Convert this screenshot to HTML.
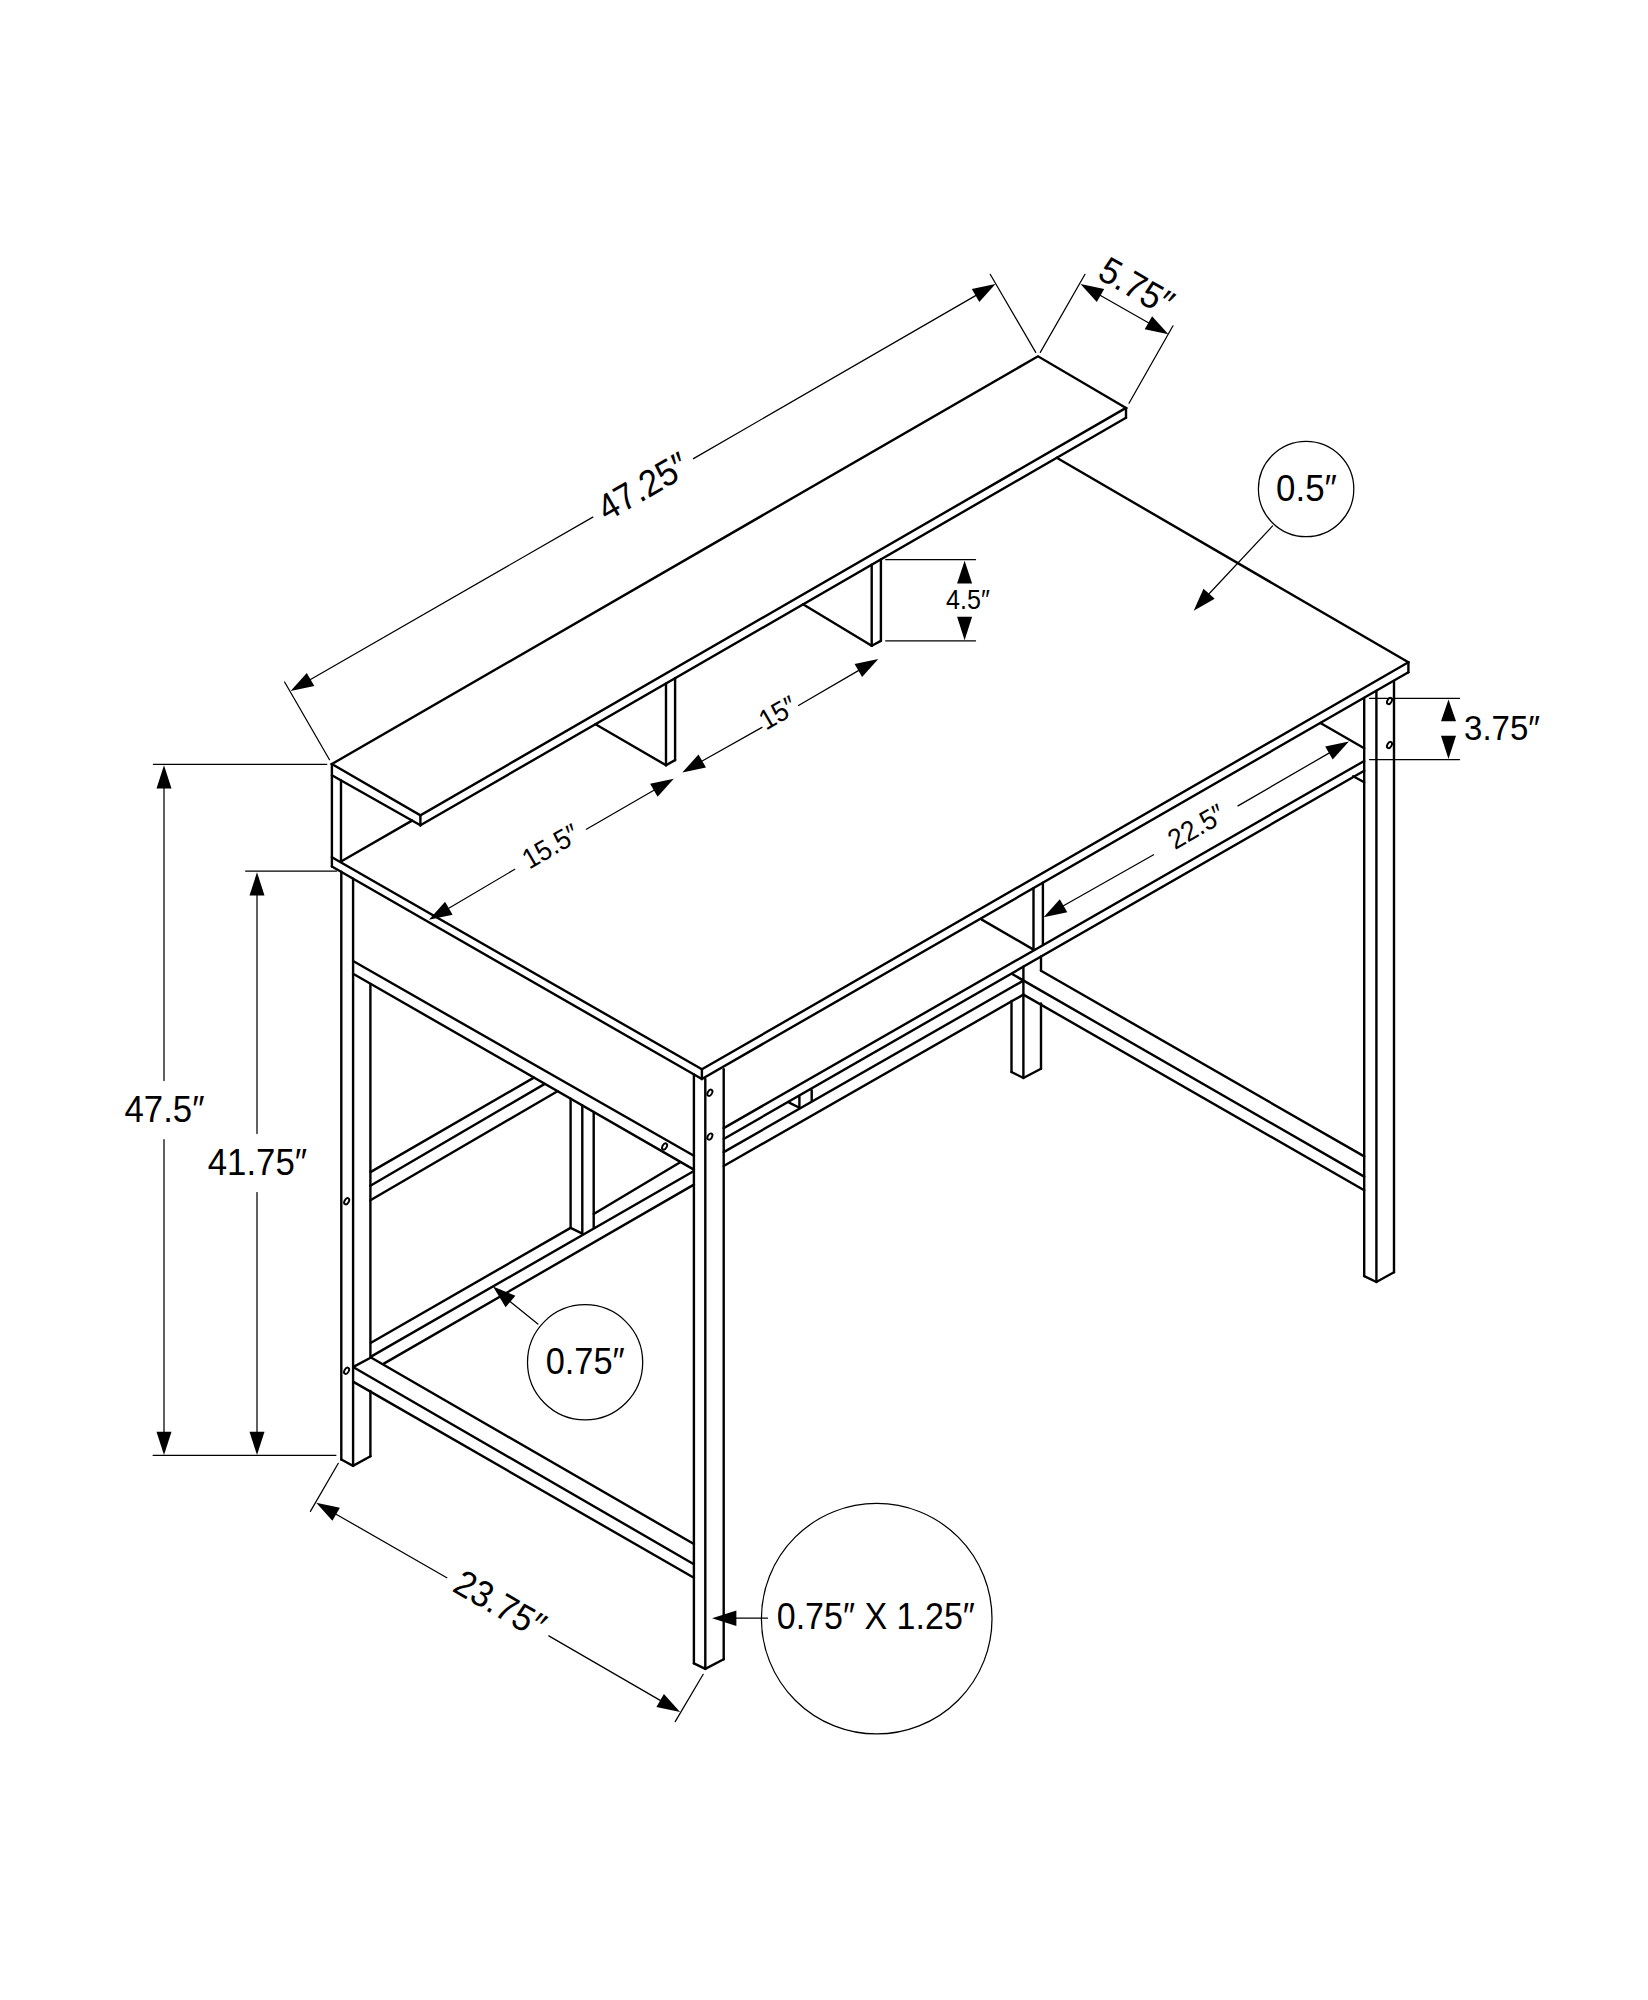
<!DOCTYPE html>
<html><head><meta charset="utf-8"><style>
html,body{margin:0;padding:0;background:#fff;}
svg{display:block;}
text{font-family:"Liberation Sans",sans-serif;fill:#000;stroke:none;}
</style></head><body>
<svg width="1648" height="2000" viewBox="0 0 1648 2000" stroke="#000" stroke-linecap="round" stroke-linejoin="miter" fill="none">
<rect x="0" y="0" width="1648" height="2000" fill="#fff" stroke="none"/>
<g>
<polygon points="331.9,764.0 1038.0,356.3 1126.0,407.9 420.4,815.3" stroke-width="2.4" fill="none"/>
<line x1="420.4" y1="815.3" x2="420.4" y2="825.3" stroke-width="2.4"/>
<line x1="1126.0" y1="407.9" x2="1126.0" y2="417.8" stroke-width="2.4"/>
<line x1="331.9" y1="775.3" x2="420.4" y2="825.3" stroke-width="2.4"/>
<line x1="420.4" y1="825.3" x2="1126.0" y2="417.8" stroke-width="2.4"/>
<line x1="331.9" y1="764.0" x2="331.9" y2="866.5" stroke-width="2.4"/>
<line x1="341.0" y1="780.4" x2="341.0" y2="861.5" stroke-width="2.4"/>
<line x1="341.0" y1="861.5" x2="412.0" y2="820.6" stroke-width="2.4"/>
<line x1="331.9" y1="857.2" x2="701.9" y2="1069.3" stroke-width="2.4"/>
<line x1="331.9" y1="866.5" x2="701.9" y2="1079.0" stroke-width="2.4"/>
<line x1="701.9" y1="1069.3" x2="701.9" y2="1079.0" stroke-width="2.4"/>
<line x1="701.9" y1="1069.3" x2="1408.4" y2="662.3" stroke-width="2.4"/>
<line x1="701.9" y1="1079.0" x2="1408.4" y2="672.3" stroke-width="2.4"/>
<line x1="1408.4" y1="662.3" x2="1408.4" y2="672.3" stroke-width="2.4"/>
<line x1="1408.4" y1="662.3" x2="1056.7" y2="457.8" stroke-width="2.4"/>
<line x1="871.7" y1="564.7" x2="871.7" y2="645.8" stroke-width="2.4"/>
<line x1="880.9" y1="559.4" x2="880.9" y2="640.9" stroke-width="2.4"/>
<line x1="871.7" y1="645.8" x2="880.9" y2="640.9" stroke-width="2.4"/>
<line x1="803.0" y1="604.3" x2="871.7" y2="645.8" stroke-width="2.4"/>
<line x1="666.0" y1="683.5" x2="666.0" y2="765.2" stroke-width="2.4"/>
<line x1="675.1" y1="678.2" x2="675.1" y2="760.1" stroke-width="2.4"/>
<line x1="666.0" y1="765.2" x2="675.1" y2="760.1" stroke-width="2.4"/>
<line x1="595.5" y1="724.2" x2="666.0" y2="765.2" stroke-width="2.4"/>
<line x1="341.3" y1="871.7" x2="341.3" y2="1459.5" stroke-width="2.4"/>
<line x1="353.1" y1="878.6" x2="353.1" y2="1465.8" stroke-width="2.4"/>
<line x1="370.4" y1="984.0" x2="370.4" y2="1357.5" stroke-width="2.4"/>
<line x1="370.4" y1="1391.0" x2="370.4" y2="1456.2" stroke-width="2.4"/>
<polyline points="341.3,1459.5 353.0,1465.8 370.5,1456.2" stroke-width="2.4" fill="none"/>
<line x1="693.9" y1="1074.5" x2="693.9" y2="1663.3" stroke-width="2.4"/>
<line x1="705.3" y1="1079.0" x2="705.3" y2="1668.9" stroke-width="2.4"/>
<line x1="723.7" y1="1069.3" x2="723.7" y2="1659.2" stroke-width="2.4"/>
<polyline points="693.9,1663.3 705.3,1668.9 723.7,1659.2" stroke-width="2.4" fill="none"/>
<line x1="1364.2" y1="698.0" x2="1364.2" y2="1276.1" stroke-width="2.4"/>
<line x1="1376.4" y1="691.0" x2="1376.4" y2="1282.0" stroke-width="2.4"/>
<line x1="1394.0" y1="681.0" x2="1394.0" y2="1272.2" stroke-width="2.4"/>
<polyline points="1364.2,1276.1 1376.4,1282.0 1394.0,1272.2" stroke-width="2.4" fill="none"/>
<line x1="1011.5" y1="1001.0" x2="1011.5" y2="1072.0" stroke-width="2.4"/>
<line x1="1023.4" y1="966.6" x2="1023.4" y2="1078.0" stroke-width="2.4"/>
<line x1="1041.0" y1="956.5" x2="1041.0" y2="970.5" stroke-width="2.4"/>
<line x1="1041.0" y1="1003.5" x2="1041.0" y2="1068.7" stroke-width="2.4"/>
<polyline points="1011.5,1072.0 1023.4,1078.0 1041.0,1068.7" stroke-width="2.4" fill="none"/>
<line x1="1033.5" y1="888.1" x2="1033.5" y2="950.0" stroke-width="2.4"/>
<line x1="1042.9" y1="882.7" x2="1042.9" y2="944.6" stroke-width="2.4"/>
<line x1="981.8" y1="919.6" x2="1033.5" y2="949.6" stroke-width="2.4"/>
<line x1="353.1" y1="961.0" x2="693.9" y2="1155.8" stroke-width="2.4"/>
<line x1="353.1" y1="973.7" x2="693.9" y2="1169.6" stroke-width="2.4"/>
<line x1="370.4" y1="1172.1" x2="533.9" y2="1077.6" stroke-width="2.4"/>
<line x1="370.4" y1="1185.8" x2="544.8" y2="1083.9" stroke-width="2.4"/>
<line x1="370.4" y1="1200.3" x2="557.5" y2="1091.2" stroke-width="2.4"/>
<line x1="570.6" y1="1098.7" x2="570.6" y2="1227.9" stroke-width="2.4"/>
<line x1="582.3" y1="1105.4" x2="582.3" y2="1233.7" stroke-width="2.4"/>
<line x1="593.7" y1="1112.0" x2="593.7" y2="1227.6" stroke-width="2.4"/>
<line x1="570.6" y1="1227.9" x2="582.3" y2="1233.7" stroke-width="2.4"/>
<line x1="371.0" y1="1342.8" x2="570.6" y2="1227.9" stroke-width="2.4"/>
<line x1="593.7" y1="1214.0" x2="680.2" y2="1162.2" stroke-width="2.4"/>
<line x1="371.0" y1="1356.6" x2="693.9" y2="1171.0" stroke-width="2.4"/>
<line x1="383.4" y1="1363.9" x2="693.9" y2="1184.6" stroke-width="2.4"/>
<line x1="371.0" y1="1357.5" x2="693.9" y2="1544.0" stroke-width="2.4"/>
<line x1="353.9" y1="1367.5" x2="693.9" y2="1564.2" stroke-width="2.4"/>
<line x1="353.9" y1="1382.1" x2="693.9" y2="1577.8" stroke-width="2.4"/>
<line x1="353.9" y1="1366.6" x2="371.0" y2="1357.5" stroke-width="2.4"/>
<line x1="723.7" y1="1128.1" x2="1364.2" y2="761.0" stroke-width="2.4"/>
<line x1="723.7" y1="1139.0" x2="1364.2" y2="770.8" stroke-width="2.4"/>
<line x1="723.7" y1="1152.1" x2="1023.4" y2="980.6" stroke-width="2.4"/>
<line x1="723.7" y1="1166.0" x2="1023.4" y2="994.6" stroke-width="2.4"/>
<line x1="799.4" y1="1096.8" x2="799.4" y2="1107.7" stroke-width="2.4"/>
<line x1="811.7" y1="1090.2" x2="811.7" y2="1100.4" stroke-width="2.4"/>
<line x1="789.2" y1="1102.6" x2="799.4" y2="1107.7" stroke-width="2.4"/>
<line x1="1041.0" y1="970.7" x2="1364.2" y2="1156.4" stroke-width="2.4"/>
<line x1="1012.6" y1="974.3" x2="1364.2" y2="1176.6" stroke-width="2.4"/>
<line x1="1023.4" y1="994.6" x2="1364.2" y2="1190.2" stroke-width="2.4"/>
<line x1="1320.4" y1="723.0" x2="1364.2" y2="748.3" stroke-width="2.4"/>
<line x1="1353.2" y1="776.2" x2="1364.2" y2="782.3" stroke-width="2.4"/>
<ellipse cx="1389.5" cy="701.0" rx="2.1" ry="3.4" transform="rotate(30 1389.5 701.0)" stroke-width="1.9" fill="none"/>
<ellipse cx="1389.5" cy="745.0" rx="2.1" ry="3.4" transform="rotate(30 1389.5 745.0)" stroke-width="1.9" fill="none"/>
<ellipse cx="709.9" cy="1092.8" rx="2.1" ry="3.4" transform="rotate(30 709.9 1092.8)" stroke-width="1.9" fill="none"/>
<ellipse cx="709.9" cy="1136.6" rx="2.1" ry="3.4" transform="rotate(30 709.9 1136.6)" stroke-width="1.9" fill="none"/>
<ellipse cx="664.6" cy="1146.5" rx="2.1" ry="3.4" transform="rotate(30 664.6 1146.5)" stroke-width="1.9" fill="none"/>
<ellipse cx="346.7" cy="1201.2" rx="2.1" ry="3.4" transform="rotate(30 346.7 1201.2)" stroke-width="1.9" fill="none"/>
<ellipse cx="346.6" cy="1370.8" rx="2.1" ry="3.4" transform="rotate(30 346.6 1370.8)" stroke-width="1.9" fill="none"/>
<line x1="284.6" y1="682.0" x2="329.5" y2="759.7" stroke-width="1.25"/>
<line x1="990.2" y1="274.3" x2="1035.7" y2="352.4" stroke-width="1.25"/>
<polygon points="290.6,691.0 306.8,673.0 314.3,686.0" fill="#000" stroke="none"/>
<polygon points="995.5,284.1 979.3,302.1 971.8,289.1" fill="#000" stroke="none"/>
<line x1="310.5" y1="679.5" x2="592.8" y2="517.1" stroke-width="1.25"/>
<line x1="693.5" y1="458.6" x2="975.6" y2="295.6" stroke-width="1.25"/>
<text transform="translate(643.0,486.5) rotate(-30) scale(0.930,1)" x="0" y="12.7" font-size="37.0" text-anchor="middle">47.25″</text>
<line x1="1040.3" y1="352.4" x2="1085.0" y2="274.3" stroke-width="1.25"/>
<line x1="1129.0" y1="403.2" x2="1173.0" y2="325.8" stroke-width="1.25"/>
<polygon points="1080.5,284.1 1104.2,289.0 1096.8,302.0" fill="#000" stroke="none"/>
<polygon points="1168.4,334.2 1144.7,329.3 1152.1,316.3" fill="#000" stroke="none"/>
<line x1="1100.5" y1="295.5" x2="1148.4" y2="322.8" stroke-width="1.25"/>
<text transform="translate(1136.5,286.3) rotate(30) scale(0.930,1)" x="0" y="12.7" font-size="37.0" text-anchor="middle">5.75″</text>
<line x1="885.7" y1="559.7" x2="975.5" y2="559.7" stroke-width="1.25"/>
<line x1="885.7" y1="640.9" x2="975.5" y2="640.9" stroke-width="1.25"/>
<polygon points="964.6,560.8 972.1,583.4 957.1,583.4" fill="#000" stroke="none"/>
<polygon points="964.6,640.2 957.1,616.7 972.1,616.7" fill="#000" stroke="none"/>
<text transform="translate(968.0,600.0) rotate(0) scale(0.930,1)" x="0" y="9.3" font-size="27.0" text-anchor="middle">4.5″</text>
<line x1="1369.5" y1="698.3" x2="1459.5" y2="698.3" stroke-width="1.25"/>
<line x1="1369.5" y1="759.6" x2="1459.5" y2="759.6" stroke-width="1.25"/>
<polygon points="1448.5,699.4 1456.0,721.3 1441.0,721.3" fill="#000" stroke="none"/>
<polygon points="1448.5,758.9 1441.0,735.8 1456.0,735.8" fill="#000" stroke="none"/>
<text transform="translate(1502.0,727.3) rotate(0) scale(0.930,1)" x="0" y="12.2" font-size="35.5" text-anchor="middle">3.75″</text>
<circle cx="1306.1" cy="489.0" r="47.7" stroke-width="1.25" fill="none"/>
<text transform="translate(1306.5,487.9) rotate(0) scale(0.930,1)" x="0" y="12.9" font-size="37.5" text-anchor="middle">0.5″</text>
<line x1="1272.6" y1="525.9" x2="1209.1" y2="593.7" stroke-width="1.25"/>
<polygon points="1193.7,610.8 1203.5,588.7 1214.7,598.7" fill="#000" stroke="none"/>
<polygon points="1043.6,917.3 1059.8,899.3 1067.3,912.3" fill="#000" stroke="none"/>
<polygon points="1348.9,741.6 1332.7,759.6 1325.2,746.6" fill="#000" stroke="none"/>
<line x1="1063.5" y1="905.8" x2="1153.6" y2="854.7" stroke-width="1.25"/>
<line x1="1238.0" y1="805.9" x2="1329.0" y2="753.1" stroke-width="1.25"/>
<text transform="translate(1196.3,826.6) rotate(-30) scale(0.930,1)" x="0" y="9.7" font-size="28.3" text-anchor="middle">22.5″</text>
<polygon points="682.3,772.5 698.5,754.5 706.0,767.5" fill="#000" stroke="none"/>
<polygon points="878.3,659.1 862.1,677.1 854.6,664.1" fill="#000" stroke="none"/>
<line x1="702.2" y1="761.0" x2="762.0" y2="727.4" stroke-width="1.25"/>
<line x1="798.5" y1="705.5" x2="858.4" y2="670.6" stroke-width="1.25"/>
<text transform="translate(777.8,712.8) rotate(-30) scale(0.930,1)" x="0" y="9.7" font-size="28.3" text-anchor="middle">15″</text>
<polygon points="428.9,919.7 445.1,901.7 452.6,914.7" fill="#000" stroke="none"/>
<polygon points="673.8,778.7 657.6,796.7 650.1,783.7" fill="#000" stroke="none"/>
<line x1="448.8" y1="908.2" x2="514.8" y2="869.3" stroke-width="1.25"/>
<line x1="586.4" y1="829.3" x2="653.9" y2="790.2" stroke-width="1.25"/>
<text transform="translate(550.5,846.2) rotate(-30) scale(0.930,1)" x="0" y="9.7" font-size="28.3" text-anchor="middle">15.5″</text>
<line x1="153.4" y1="764.3" x2="326.8" y2="764.3" stroke-width="1.25"/>
<line x1="245.6" y1="871.1" x2="336.7" y2="871.1" stroke-width="1.25"/>
<line x1="153.1" y1="1455.3" x2="335.9" y2="1455.3" stroke-width="1.25"/>
<polygon points="164.0,765.3 171.5,788.6 156.5,788.6" fill="#000" stroke="none"/>
<polygon points="164.0,1455.0 156.5,1431.7 171.5,1431.7" fill="#000" stroke="none"/>
<line x1="164.0" y1="788.0" x2="164.0" y2="1080.5" stroke-width="1.25"/>
<line x1="164.0" y1="1139.7" x2="164.0" y2="1432.0" stroke-width="1.25"/>
<polygon points="257.0,872.3 264.5,895.4 249.5,895.4" fill="#000" stroke="none"/>
<polygon points="257.0,1455.0 249.5,1431.7 264.5,1431.7" fill="#000" stroke="none"/>
<line x1="257.0" y1="895.0" x2="257.0" y2="1133.4" stroke-width="1.25"/>
<line x1="257.0" y1="1192.5" x2="257.0" y2="1432.0" stroke-width="1.25"/>
<text transform="translate(164.5,1108.9) rotate(0) scale(0.950,1)" x="0" y="12.6" font-size="36.6" text-anchor="middle">47.5″</text>
<text transform="translate(257.4,1162.0) rotate(0) scale(0.940,1)" x="0" y="12.7" font-size="37.0" text-anchor="middle">41.75″</text>
<line x1="338.3" y1="1463.3" x2="310.4" y2="1511.4" stroke-width="1.25"/>
<line x1="703.2" y1="1674.3" x2="675.2" y2="1721.6" stroke-width="1.25"/>
<polygon points="316.2,1502.7 339.9,1507.7 332.4,1520.7" fill="#000" stroke="none"/>
<polygon points="680.1,1711.9 656.4,1706.9 663.9,1693.9" fill="#000" stroke="none"/>
<line x1="336.1" y1="1514.2" x2="446.8" y2="1577.7" stroke-width="1.25"/>
<line x1="548.8" y1="1635.9" x2="660.2" y2="1700.4" stroke-width="1.25"/>
<text transform="translate(500.0,1604.0) rotate(30) scale(0.930,1)" x="0" y="12.7" font-size="37.0" text-anchor="middle">23.75″</text>
<circle cx="585.1" cy="1362.3" r="57.6" stroke-width="1.25" fill="none"/>
<text transform="translate(585.2,1361.0) rotate(0) scale(0.930,1)" x="0" y="12.7" font-size="37.0" text-anchor="middle">0.75″</text>
<line x1="537.9" y1="1324.0" x2="510.0" y2="1301.5" stroke-width="1.25"/>
<polygon points="493.0,1286.4 515.4,1295.8 505.6,1307.2" fill="#000" stroke="none"/>
<circle cx="876.7" cy="1618.7" r="115.3" stroke-width="1.25" fill="none"/>
<text transform="translate(875.8,1616.6) rotate(0) scale(0.920,1)" x="0" y="12.7" font-size="37.0" text-anchor="middle">0.75″ X 1.25″</text>
<line x1="767.5" y1="1618.2" x2="736.0" y2="1618.2" stroke-width="1.25"/>
<polygon points="712.1,1618.3 736.4,1610.5 736.4,1626.1" fill="#000" stroke="none"/>
</g>
</svg>
</body></html>
